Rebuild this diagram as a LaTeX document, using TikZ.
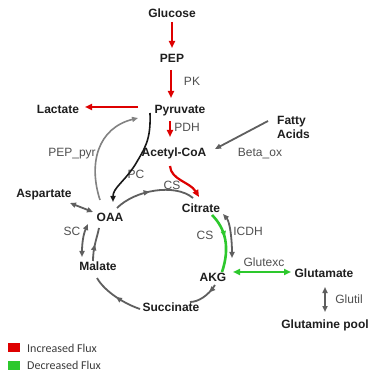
\documentclass[tikz,border=0pt]{standalone}
\usepackage{fontspec}
\setmainfont{Liberation Sans}
\newfontfamily\legendfont{Carlito}
\usetikzlibrary{arrows.meta,decorations.markings,calc}
\definecolor{fluxred}{RGB}{222,0,0}
\definecolor{fluxgreen}{RGB}{45,200,45}
\definecolor{pathgray}{RGB}{95,95,95}
\definecolor{lightpath}{RGB}{130,130,130}
\definecolor{labelgray}{RGB}{80,80,80}
\definecolor{metab}{RGB}{30,30,30}
\definecolor{legendtext}{RGB}{60,60,60}
\begin{document}
\begin{tikzpicture}[x=1pt,y=-1pt,
  met/.style={font=\bfseries\fontsize{12}{14}\selectfont, text=metab, inner sep=0pt, text height=8.5pt, text depth=2pt},
  rx/.style={font=\fontsize{12}{14}\selectfont, text=labelgray, inner sep=0pt, text height=8.5pt, text depth=2pt},
  legendlbl/.style={font=\legendfont\fontsize{12}{14}\selectfont, text=legendtext, inner sep=0pt, anchor=west},
  tipR/.style={-{Triangle[length=7pt,width=6pt]}},
  tipB/.style={{Triangle[length=6pt,width=5pt]}-{Triangle[length=6pt,width=5pt]}},
  redarr/.style={draw=fluxred, line width=2.2pt, tipR},
  grayarr/.style={draw=pathgray, line width=1.8pt, -{Triangle[length=6pt,width=5pt]}},
  lightarr/.style={draw=lightpath, line width=1.6pt, -{Triangle[length=6pt,width=5pt]}},
  blackarr/.style={draw=black!90, line width=1.6pt, -{Triangle[length=6pt,width=5pt]}},
  grayline/.style={draw=pathgray, line width=1.8pt},
  greenline/.style={draw=fluxgreen, line width=2.6pt},
  midarrow/.style={postaction={decorate}, decoration={markings, mark=at position #1 with {\arrow{Triangle[length=6pt,width=5pt]}}}},
]
\useasboundingbox[fill=white] (0,0) rectangle (380,379);

% metabolites
\node[met] (glucose) at (172,14) {Glucose};
\node[met] (pep) at (172,59) {PEP};
\node[met] (pyruvate) at (180,110) {Pyruvate};
\node[met] (lactate) at (58,110) {Lactate};
\node[met, anchor=west, align=left, text height=, text depth=] (fatty) at (277,127) {Fatty\\Acids};
\node[met] (acetyl) at (174,153) {Acetyl-CoA};
\node[met] (aspartate) at (44,194) {Aspartate};
\node[met] (oaa) at (110,218) {OAA};
\node[met] (citrate) at (201,209) {Citrate};
\node[met] (malate) at (98,267) {Malate};
\node[met] (akg) at (213,278) {AKG};
\node[met] (glutamate) at (324,274) {Glutamate};
\node[met] (succinate) at (171,308) {Succinate};
\node[met] (glutamine) at (325,325) {Glutamine pool};

% reaction labels
\node[rx] (pk) at (192,82) {PK};
\node[rx] (pdh) at (187,128) {PDH};
\node[rx] (betaox) at (260,153) {Beta\_ox};
\node[rx] (peppyr) at (72,153) {PEP\_pyr};
\node[rx] (pc) at (136,175) {PC};
\node[rx] (cs1) at (172,186) {CS};
\node[rx] (cs2) at (205,236) {CS};
\node[rx] (icdh) at (248,232) {ICDH};
\node[rx] (sc) at (72,232) {SC};
\node[rx] (glutexc) at (264,263) {Glutexc};
\node[rx] (glutil) at (349,300) {Glutil};

% red (increased) fluxes
\draw[redarr] ($(glucose)+(0,8)$) -- ($(pep)+(0,-11)$);
\draw[redarr] ($(pep)+(-1,11)$) -- ($(pyruvate)+(-9,-12)$);
\draw[redarr] ($(pyruvate)+(-42,-3)$) -- ($(lactate)+(27,-3)$);
\draw[redarr] ($(pyruvate)+(-10,11)$) -- ($(acetyl)+(-4,-16)$);
\draw[redarr] ($(acetyl)+(-4,13)$) .. controls ($(acetyl)+(-3,27)$) and ($(citrate)+(-11,-27)$) .. ($(citrate)+(-2,-12)$);

% beta oxidation
\draw[grayarr] ($(fatty.west)+(-9,-6)$) -- ($(acetyl)+(41,-4)$);

% PEP_pyr and PC
\draw[lightarr] ($(oaa)+(-10,-18)$) .. controls ($(oaa)+(-22,-55)$) and ($(oaa)+(-12,-90)$) .. ($(pyruvate)+(-42,8)$);
\draw[blackarr] ($(pyruvate)+(-30,3)$) .. controls ($(pyruvate)+(-29,30)$) and ($(pyruvate)+(-35,38)$) .. ($(oaa)+(25,-53)$) .. controls ($(oaa)+(14,-36)$) and ($(oaa)+(3,-30)$) .. ($(oaa)+(3,-16)$);

% TCA cycle
\draw[grayline, midarrow=0.45] ($(oaa)+(7,-10)$) .. controls ($(oaa)+(25,-28)$) and ($(citrate)+(-26,-26)$) .. ($(citrate)+(-8,-11)$);
\draw[greenline, midarrow=0.42] ($(citrate)+(11,6)$) .. controls ($(citrate)+(25,20)$) and ($(akg)+(17,-30)$) .. ($(akg)+(9,-6)$);
\draw[grayline, tipB] ($(citrate)+(22,5)$) .. controls ($(citrate)+(29,13)$) and ($(akg)+(19,-38)$) .. ($(akg)+(19,-20)$);
\draw[grayline, midarrow=0.3] ($(akg)+(2,7)$) .. controls ($(akg)+(-5,18)$) and ($(succinate)+(27,-6)$) .. ($(succinate)+(19,-6)$);
\draw[grayline, midarrow=0.5] ($(succinate)+(-31,1)$) .. controls ($(succinate)+(-46,-4)$) and ($(malate)+(7,25)$) .. ($(malate)+(-1,11)$);
\draw[grayline, tipB] ($(oaa)+(-22,6)$) .. controls ($(oaa)+(-27,17)$) and ($(malate)+(-16,-22)$) .. ($(malate)+(-16,-10)$);
\draw[grayline, midarrow=0.5] ($(malate)+(-5,-6)$) .. controls ($(malate)+(-5,-20)$) and ($(oaa)+(-13,20)$) .. ($(oaa)+(-11,10)$);
\draw[grayline, tipB] ($(aspartate)+(26,9)$) -- ($(oaa)+(-17,-6)$);

% glutamate exchanges
\draw[greenline, {Triangle[length=7pt,width=6pt]}-{Triangle[length=7pt,width=6pt]}] ($(akg)+(20,-6)$) -- ($(glutamate)+(-33,-2)$);
\draw[grayline, tipB] ($(glutamate)+(1,13)$) -- ($(glutamine)+(0,-13)$);

% legend
\fill[fluxred] (8,343) rectangle (20,352);
\fill[fluxgreen] (8,361) rectangle (20,370);
\node[legendlbl] (inc) at (27,348) {Increased Flux};
\node[legendlbl] (dec) at (27,365) {Decreased Flux};
\end{tikzpicture}
\end{document}
